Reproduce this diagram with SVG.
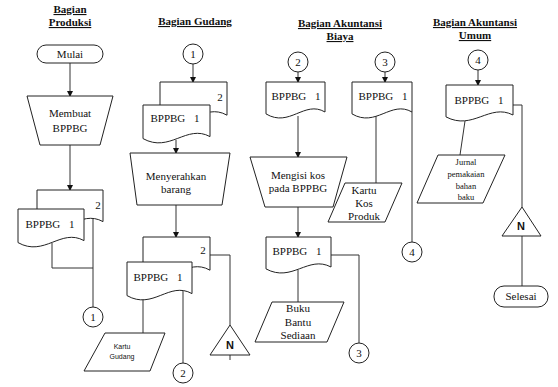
<svg xmlns="http://www.w3.org/2000/svg" width="558" height="387" viewBox="0 0 558 387">
<style>
.s{fill:#fff;stroke:#222;stroke-width:1}
.l{fill:none;stroke:#333;stroke-width:1}
.a{fill:none;stroke:#333;stroke-width:1;marker-end:url(#ah)}
.t{font-family:"Liberation Serif",serif;font-size:11px;fill:#111;text-anchor:middle}
.h{font-family:"Liberation Serif",serif;font-size:11px;font-weight:bold;fill:#111;text-anchor:middle;text-decoration:underline}
.sm{font-family:"Liberation Serif",serif;font-size:8.5px;fill:#111;text-anchor:middle}
.ss{font-family:"Liberation Sans",Arial,sans-serif;font-size:7px;fill:#111;text-anchor:middle}
.n{font-family:"Liberation Sans",Arial,sans-serif;font-size:11px;font-weight:bold;fill:#111;text-anchor:middle}
.w{word-spacing:6px}
</style>
<defs>
<marker id="ah" markerWidth="6" markerHeight="6" refX="5" refY="3" orient="auto" markerUnits="userSpaceOnUse">
<path d="M0,0 L6,3 L0,6 Z" fill="#111"/>
</marker>
</defs>
<rect width="558" height="387" fill="#fff"/>

<g id="headers">
<text class="h" x="70" y="13">Bagian</text>
<text class="h" x="70" y="26">Produksi</text>
<text class="h" x="195" y="25">Bagian Gudang</text>
<text class="h" x="340" y="27">Bagian Akuntansi</text>
<text class="h" x="340" y="40">Biaya</text>
<text class="h" x="475" y="26">Bagian Akuntansi</text>
<text class="h" x="475" y="39">Umum</text>
</g>

<g id="connectors">
<line class="a" x1="70" y1="63" x2="70" y2="96"/>
<line class="a" x1="70" y1="145" x2="70" y2="190"/>
<polyline class="l" points="52,243 52,268 93,268"/>
<line class="l" x1="93" y1="219" x2="93" y2="307"/>
<line class="a" x1="193" y1="64" x2="193" y2="82"/>
<line class="a" x1="176" y1="140" x2="176" y2="153"/>
<line class="a" x1="176" y1="205" x2="176" y2="237"/>
<polyline class="l" points="210,255 230,255 230,325"/>
<line class="l" x1="230" y1="355" x2="230" y2="360"/>
<line class="l" x1="143" y1="299" x2="143" y2="333"/>
<line class="l" x1="183" y1="291" x2="183" y2="363"/>
<line class="a" x1="298" y1="72" x2="298" y2="82"/>
<line class="a" x1="298" y1="116" x2="298" y2="157"/>
<line class="a" x1="298" y1="207" x2="298" y2="237"/>
<line class="l" x1="298" y1="270" x2="298" y2="302"/>
<polyline class="l" points="331,255 359,255 359,343"/>
<line class="a" x1="385" y1="72" x2="385" y2="82"/>
<line class="l" x1="376" y1="115" x2="376" y2="183"/>
<line class="l" x1="412" y1="112" x2="412" y2="242"/>
<line class="a" x1="478" y1="70" x2="478" y2="85"/>
<polyline class="l" points="513,105 522,105 522,207"/>
<line class="l" x1="465" y1="121" x2="460" y2="155"/>
<line class="l" x1="522" y1="236" x2="522" y2="286"/>
</g>

<g id="mulai">
<rect class="s" x="37" y="45" width="66" height="18" rx="9"/>
<text class="t" x="70" y="58">Mulai</text>
</g>
<g id="membuat">
<polygon class="s" points="27,96 113,96 100,145 40,145"/>
<text class="t" x="70" y="117">Membuat</text>
<text class="t" x="70" y="132">BPPBG</text>
</g>
<g id="doc-produksi">
<path class="s" d="M37,190 H103 V221.6 C79.9,208.8 63.4,238.4 37,223.6 Z"/>
<text class="t" x="98" y="209">2</text>
<path class="s" d="M18,209 H84 V240.6 C60.9,227.8 44.4,257.4 18,242.6 Z"/>
<text class="t w" x="50" y="228">BPPBG 1</text>
</g>
<g id="conn-1a">
<circle class="s" cx="93" cy="317" r="10"/>
<text class="t" x="93" y="321">1</text>
</g>

<g id="conn-1b">
<circle class="s" cx="193" cy="54" r="10"/>
<text class="t" x="193" y="58">1</text>
</g>
<g id="doc-gudang-1">
<path class="s" d="M160,82 H227 V115.2 C203.55,101.7 186.8,132.8 160,117.3 Z"/>
<text class="t" x="220" y="101">2</text>
<path class="s" d="M143,105 H210 V136.6 C186.55,123.8 169.8,153.4 143,138.6 Z"/>
<text class="t w" x="175" y="122">BPPBG 1</text>
</g>
<g id="menyerahkan">
<polygon class="s" points="130,153 230,153 222,205 137,205"/>
<text class="t" x="176" y="180">Menyerahkan</text>
<text class="t" x="176" y="193">barang</text>
</g>
<g id="doc-gudang-2">
<path class="s" d="M143,237 H210 V270.2 C186.55,256.7 169.8,287.8 143,272.3 Z"/>
<text class="t" x="203" y="254">2</text>
<path class="s" d="M127,262 H192 V293.6 C169.25,280.8 153,310.4 127,295.6 Z"/>
<text class="t w" x="158" y="281">BPPBG 1</text>
</g>
<g id="kartu-gudang">
<polygon class="s" points="105,333 165,333 150,371 84,371"/>
<text class="ss" x="122" y="349">Kartu</text>
<text class="ss" x="122" y="359">Gudang</text>
</g>
<g id="conn-2a">
<circle class="s" cx="183" cy="373" r="10"/>
<text class="t" x="183" y="377">2</text>
</g>
<g id="arsip-n1">
<polygon class="s" points="230,325 250,355 210,355"/>
<text class="n" x="230" y="349">N</text>
</g>

<g id="conn-2b">
<circle class="s" cx="298" cy="62" r="10"/>
<text class="t" x="298" y="66">2</text>
</g>
<g id="doc-biaya-1">
<path class="s" d="M266,82 H325 V112 C304.35,99.9 289.6,128 266,113.9 Z"/>
<text class="t w" x="296" y="100">BPPBG 1</text>
</g>
<g id="mengisi">
<polygon class="s" points="250,157 347,157 333,207 265,207"/>
<text class="t" x="298" y="179">Mengisi kos</text>
<text class="t" x="298" y="192">pada BPPBG</text>
</g>
<g id="doc-biaya-2">
<path class="s" d="M266,237 H331 V267 C308.25,254.9 292,283 266,268.9 Z"/>
<text class="t w" x="297" y="255">BPPBG 1</text>
</g>
<g id="buku">
<polygon class="s" points="272,302 344,302 327,342 255,342"/>
<text class="t" x="298" y="312">Buku</text>
<text class="t" x="298" y="326">Bantu</text>
<text class="t" x="298" y="339">Sediaan</text>
</g>
<g id="conn-3a">
<circle class="s" cx="359" cy="353" r="10"/>
<text class="t" x="359" y="357">3</text>
</g>
<g id="conn-3b">
<circle class="s" cx="385" cy="62" r="10"/>
<text class="t" x="385" y="66">3</text>
</g>
<g id="doc-biaya-3">
<path class="s" d="M352,82 H412 V112 C391,99.9 376,128 352,113.9 Z"/>
<text class="t w" x="383" y="100">BPPBG 1</text>
</g>
<g id="kartu-kos">
<polygon class="s" points="345,183 402,183 385,222 328,222"/>
<text class="t" x="364" y="194">Kartu</text>
<text class="t" x="364" y="207">Kos</text>
<text class="t" x="364" y="220">Produk</text>
</g>
<g id="conn-4a">
<circle class="s" cx="412" cy="252" r="10"/>
<text class="t" x="412" y="256">4</text>
</g>

<g id="conn-4b">
<circle class="s" cx="478" cy="60" r="10"/>
<text class="t" x="478" y="64">4</text>
</g>
<g id="doc-umum">
<path class="s" d="M446,85 H513 V115 C489.55,102.9 472.8,131 446,116.9 Z"/>
<text class="t w" x="479" y="104">BPPBG 1</text>
</g>
<g id="jurnal">
<polygon class="s" points="438,155 505,155 483,203 417,203"/>
<text class="sm" x="466" y="165">Jurnal</text>
<text class="sm" x="466" y="177">pemakaian</text>
<text class="sm" x="466" y="189">bahan</text>
<text class="sm" x="466" y="200">baku</text>
</g>
<g id="arsip-n2">
<polygon class="s" points="522,207 541,236 502,236"/>
<text class="n" x="521" y="230">N</text>
</g>
<g id="selesai">
<rect class="s" x="494" y="286" width="54" height="21" rx="10"/>
<text class="t" x="521" y="300">Selesai</text>
</g>
</svg>
